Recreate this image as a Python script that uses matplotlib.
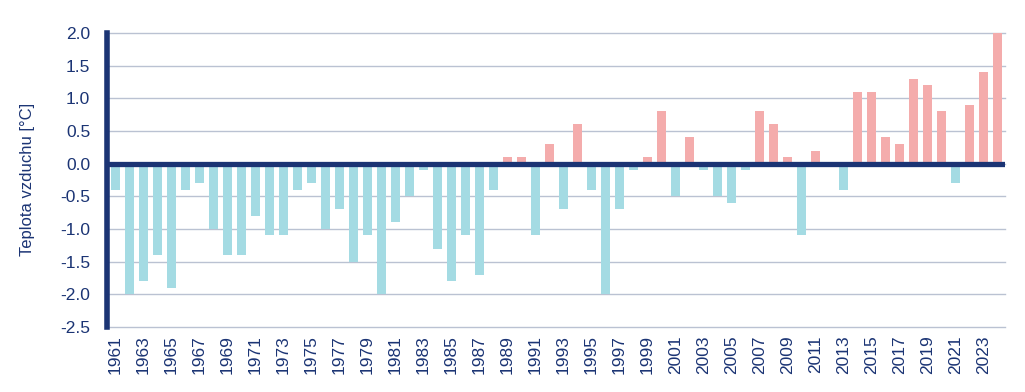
import numpy as np
import matplotlib.pyplot as plt

# --- DATA ---
years = list(range(1961, 2025))
anomaly = [
    -0.4, -2.0, -1.8, -1.4, -1.9, -0.4, -0.3, -1.0, -1.4, -1.4,   # 1961-1970
    -0.8, -1.1, -1.1, -0.4, -0.3, -1.0, -0.7, -1.5, -1.1, -2.0,   # 1971-1980
    -0.9, -0.5, -0.1, -1.3, -1.8, -1.1, -1.7, -0.4, 0.1, 0.1,     # 1981-1990
    -1.1, 0.3, -0.7, 0.6, -0.4, -2.0, -0.7, -0.1, 0.1, 0.8,       # 1991-2000
    -0.5, 0.4, -0.1, -0.5, -0.6, -0.1, 0.8, 0.6, 0.1, -1.1,       # 2001-2010
    0.2, 0.0, -0.4, 1.1, 1.1, 0.4, 0.3, 1.3, 1.2, 0.8,            # 2011-2020
    -0.3, 0.9, 1.4, 2.0,                                          # 2021-2024
]
y_ticks = [2.0, 1.5, 1.0, 0.5, 0.0, -0.5, -1.0, -1.5, -2.0, -2.5]

# --- STYLE ---
plt.rcParams["font.family"] = ["Liberation Sans", "DejaVu Sans"]
navy = "#1B3474"
col_neg = "#A4DBE3"
col_pos = "#F4ACAC"
grid_col = "#BAC2D2"

vals = np.array(anomaly)
x = np.arange(len(years))
colors = [col_pos if v > 0 else col_neg for v in vals]

fig = plt.figure(figsize=(10.25, 3.92), dpi=100)
ax = fig.add_axes([0.1044, 0.166, 0.876, 0.750])

ax.bar(x, vals, width=0.62, color=colors, zorder=2)

ax.set_ylim(-2.5, 2.0)
ax.set_xlim(-0.6, len(years) - 0.45)
ax.set_yticks(y_ticks)
ax.set_yticklabels([f"{t:.1f}" for t in y_ticks])
ax.yaxis.grid(True, color=grid_col, lw=1.0, zorder=0, clip_on=False)
for gl in ax.get_ygridlines():
    gl.set_clip_on(False)
ax.axhline(0, color=navy, lw=3.8, zorder=3)

ax.set_xticks(x[::2])
ax.set_xticklabels([str(y) for y in years[::2]], rotation=90)

for s in ["top", "right", "bottom"]:
    ax.spines[s].set_visible(False)
ax.spines["left"].set_color(navy)
ax.spines["left"].set_linewidth(4)
ax.spines["left"].set_zorder(4)

ax.tick_params(axis="both", length=0, colors=navy, labelsize=12.5)
ax.tick_params(axis="y", pad=12)
ax.tick_params(axis="x", pad=6)

ax.set_ylabel("Teplota vzduchu [°C]", color=navy, fontsize=12, labelpad=18)

plt.savefig("out.png", dpi=100)
